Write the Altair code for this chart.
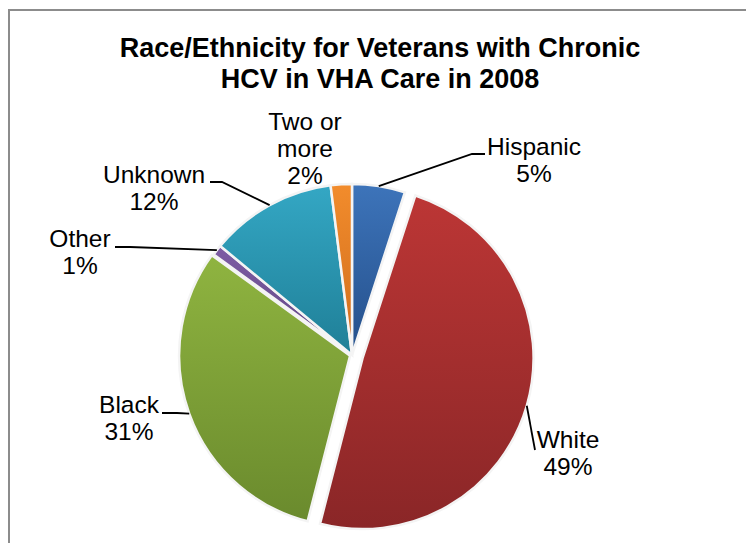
import math
import altair as alt
import pandas as pd

# ---------------- data ----------------
categories = ["Hispanic", "White", "Black", "Other", "Unknown", "Two or more"]
values = [5, 49, 31, 1, 12, 2]
label_names = [["Hispanic"], ["White"], ["Black"], ["Other"], ["Unknown"], ["Two or", "more"]]
title_lines = ["Race/Ethnicity for Veterans with Chronic", "HCV in VHA Care in 2008"]

# ---------------- styles / layout ----------------
slice_colors = {
    "Hispanic": ("#3D74BA", "#244F8A"),
    "White": ("#BC3635", "#8A2627"),
    "Black": ("#8FB440", "#6A8A2D"),
    "Other": ("#7E5DA4", "#5E4482"),
    "Unknown": ("#34A7C4", "#1F7F97"),
    "Two or more": ("#F28C2C", "#CF6C1C"),
}
W, H = 746, 543
CX, CY, R = 352, 355, 171
EXPLODE = {"White": 11, "Black": 2}
FONT = "Liberation Sans"
LABEL_SIZE = 24.5
LINE_H = 26.8
TITLE_SIZE = 27
TITLE_X, TITLE_Y, TITLE_LH = 380, 57, 31

# first-line baseline of each label (centre x, baseline y)
LABEL_POS = {
    "Hispanic": (534, 155),
    "White": (568, 448),
    "Black": (129, 413),
    "Other": (80, 247),
    "Unknown": (154, 183),
    "Two or more": (305, 130),
}
# leader line points after the slice edge point
LEADER = {
    "Hispanic": [(472, 154), (485, 154)],
    "White": [(535, 450)],
    "Black": [(177, 413), (162, 413)],
    "Other": [(130, 247), (115, 247)],
    "Unknown": [(222, 182), (210, 182)],
}

total = sum(values)

df = pd.DataFrame({
    "category": categories,
    "value": values,
    "order": list(range(len(categories))),
    "explode": [EXPLODE.get(c, 0) for c in categories],
})

base = (
    alt.Chart(df)
    .transform_window(cum="sum(value)", sort=[alt.SortField("order")], frame=[None, 0])
    .transform_calculate(start="datum.cum - datum.value",
                         mid=f"(datum.cum - datum.value / 2) / {total} * 2 * PI")
    .transform_calculate(px=f"{CX} + datum.explode * sin(datum.mid)",
                         py=f"{CY} - datum.explode * cos(datum.mid)")
)

theta_scale = alt.Scale(domain=[0, total], range=[0, 2 * math.pi])

layers = []
for c in categories:
    top, bot = slice_colors[c]
    grad = alt.LinearGradient(
        gradient="linear",
        stops=[alt.GradientStop(offset=0, color=top), alt.GradientStop(offset=1, color=bot)],
        x1=0, x2=0, y1=0, y2=1,
    )
    layers.append(
        base.transform_filter(alt.datum.category == c)
        .mark_arc(radius=R, fill=grad, stroke="#f4f4f4", strokeWidth=2.5)
        .encode(
            theta=alt.Theta("start:Q", scale=theta_scale),
            theta2=alt.Theta2("cum:Q"),
            x=alt.X("px:Q", scale=None, axis=None),
            y=alt.Y("py:Q", scale=None, axis=None),
        )
    )

# leader lines
rows = []
cum = 0
for c, v in zip(categories, values):
    mid = (cum + v / 2) / total * 2 * math.pi
    cum += v
    if c not in LEADER:
        continue
    e = EXPLODE.get(c, 0)
    sx = CX + (e + R) * math.sin(mid)
    sy = CY - (e + R) * math.cos(mid)
    pts = [(sx, sy)] + LEADER[c]
    for k, (x, y) in enumerate(pts):
        rows.append({"category": c, "seq": k, "x": x, "y": y})
lines_df = pd.DataFrame(rows)
leaders = alt.Chart(lines_df).mark_line(color="black", strokeWidth=1.8).encode(
    x=alt.X("x:Q", scale=None, axis=None),
    y=alt.Y("y:Q", scale=None, axis=None),
    detail="category:N",
    order=alt.Order("seq:Q"),
)

# labels
lab_rows = []
for c, names, v in zip(categories, label_names, values):
    lx, ly = LABEL_POS[c]
    for j, t in enumerate(names + [f"{v}%"]):
        lab_rows.append({"text": t, "x": lx, "y": ly + j * LINE_H})
labels = alt.Chart(pd.DataFrame(lab_rows)).mark_text(
    font=FONT, fontSize=LABEL_SIZE, align="center", baseline="alphabetic", color="black"
).encode(
    x=alt.X("x:Q", scale=None, axis=None),
    y=alt.Y("y:Q", scale=None, axis=None),
    text="text:N",
)

# title
t_df = pd.DataFrame({"text": title_lines,
                     "y": [TITLE_Y + i * TITLE_LH for i in range(len(title_lines))]})
title = alt.Chart(t_df).mark_text(
    font=FONT, fontSize=TITLE_SIZE, fontWeight="bold", align="center",
    baseline="alphabetic", color="black"
).encode(
    x=alt.value(TITLE_X),
    y=alt.Y("y:Q", scale=None, axis=None),
    text="text:N",
)

# chart-area border
one = pd.DataFrame({"a": [0]})
border_top = alt.Chart(one).mark_rule(color="#8c8c8c", strokeWidth=2).encode(
    x=alt.value(8), x2=alt.value(W), y=alt.value(10))
border_left = alt.Chart(one).mark_rule(color="#8c8c8c", strokeWidth=2).encode(
    x=alt.value(9), y=alt.value(9), y2=alt.value(H))

chart = (
    alt.layer(border_top, border_left, *layers, leaders, labels, title)
    .properties(width=W, height=H, padding=0, autosize="none", background="white")
    .configure_view(stroke=None)
)

chart.save("out.html", embed_options={"renderer": "svg", "actions": False})
